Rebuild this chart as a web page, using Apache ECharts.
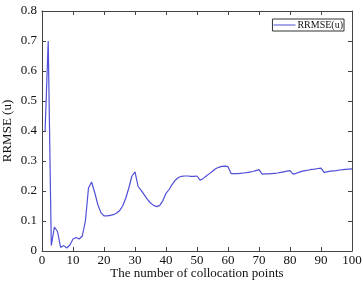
<!DOCTYPE html>
<html><head><meta charset="utf-8">
<script src="https://cdn.jsdelivr.net/npm/echarts@6/dist/echarts.min.js"></script>
<style>html,body{margin:0;padding:0;background:#fff}#c{width:363px;height:283px}</style>
</head><body><div id="c"></div>
<script>
const xValues = [];
for (let i = 1; i <= 100; i++) xValues.push(i);
const rrmse = [
0.40,0.70,0.018,0.08,0.065,0.012,0.018,0.01,0.02,0.04,
0.045,0.04,0.05,0.10,0.21,0.23,0.195,0.155,0.128,0.117,
0.117,0.119,0.121,0.126,0.134,0.15,0.175,0.21,0.25,0.264,
0.215,0.202,0.187,0.172,0.16,0.152,0.148,0.152,0.168,0.192,
0.205,0.222,0.236,0.245,0.249,0.25,0.25,0.249,0.249,0.25,
0.236,0.242,0.25,0.258,0.266,0.274,0.279,0.282,0.283,0.281,
0.258,0.258,0.258,0.259,0.26,0.261,0.263,0.265,0.268,0.271,
0.256,0.257,0.257,0.258,0.259,0.26,0.262,0.264,0.266,0.268,
0.256,0.259,0.263,0.266,0.268,0.27,0.272,0.273,0.275,0.276,
0.262,0.264,0.266,0.267,0.268,0.27,0.271,0.272,0.273,0.274];
const xTicks = [0,10,20,30,40,50,60,70,80,90,100];
const yTicks = [0,0.1,0.2,0.3,0.4,0.5,0.6,0.7,0.8];
const seriesName = 'RRMSE(u)';
const xTitle = 'The number of collocation points';
const yTitle = 'RRMSE (u)';

const font = 'Liberation Serif';
const axisCol = '#444';
const baseAxis = {
  axisLine:{show:true,onZero:false,lineStyle:{color:axisCol,width:1}},
  axisTick:{show:true,inside:true,length:4,lineStyle:{color:axisCol}},
  splitLine:{show:false}
};
const chart = echarts.init(document.getElementById('c'), null, {renderer:'canvas'});
chart.setOption({
  backgroundColor:'#fff',
  animation:false,
  grid:{left:42,right:11,top:11,bottom:32,containLabel:false,outerBoundsMode:'none'},
  legend:{
    show:true, right:19, top:19, itemWidth:22, itemHeight:1, itemGap:2,
    borderColor:'#333', borderWidth:1, padding:[1,1,1,1], backgroundColor:'#fff',
    textStyle:{fontFamily:font,fontSize:10,color:'#111',padding:[0,0,0,-3]},
    icon:'rect',
    data:[{name:seriesName}]
  },
  xAxis:[
    Object.assign({type:'value',min:0,max:100,interval:10,position:'bottom',
      name:xTitle,nameLocation:'middle',nameGap:16,nameMoveOverlap:false,
      nameTextStyle:{fontFamily:font,fontSize:13,color:'#111'},
      axisLabel:{fontFamily:font,fontSize:13,color:'#111',margin:3,
        formatter:v=>xTicks.includes(v)?String(v):''}},baseAxis),
    Object.assign({type:'value',min:0,max:100,interval:10,position:'top',
      axisLabel:{show:false}},baseAxis)
  ],
  yAxis:[
    Object.assign({type:'value',min:0,max:0.8,interval:0.1,position:'left',
      name:yTitle,nameLocation:'middle',nameGap:28,nameMoveOverlap:false,
      nameTextStyle:{fontFamily:font,fontSize:13,color:'#111'},
      axisLabel:{fontFamily:font,fontSize:13,color:'#111',margin:5,
        formatter:v=>{const t=yTicks.find(k=>Math.abs(k-v)<1e-9);return t===undefined?'':(t===0?'0':t.toFixed(1));}}},baseAxis),
    Object.assign({type:'value',min:0,max:0.8,interval:0.1,position:'right',
      axisLabel:{show:false}},baseAxis)
  ],
  series:[{
    name:seriesName, type:'line', showSymbol:false, symbol:'none',
    lineStyle:{color:'#4f4fd8',width:1.2}, itemStyle:{color:'#4f4fd8'},
    data: xValues.map((x,i)=>[x,rrmse[i]])
  }]
});
</script></body></html>
